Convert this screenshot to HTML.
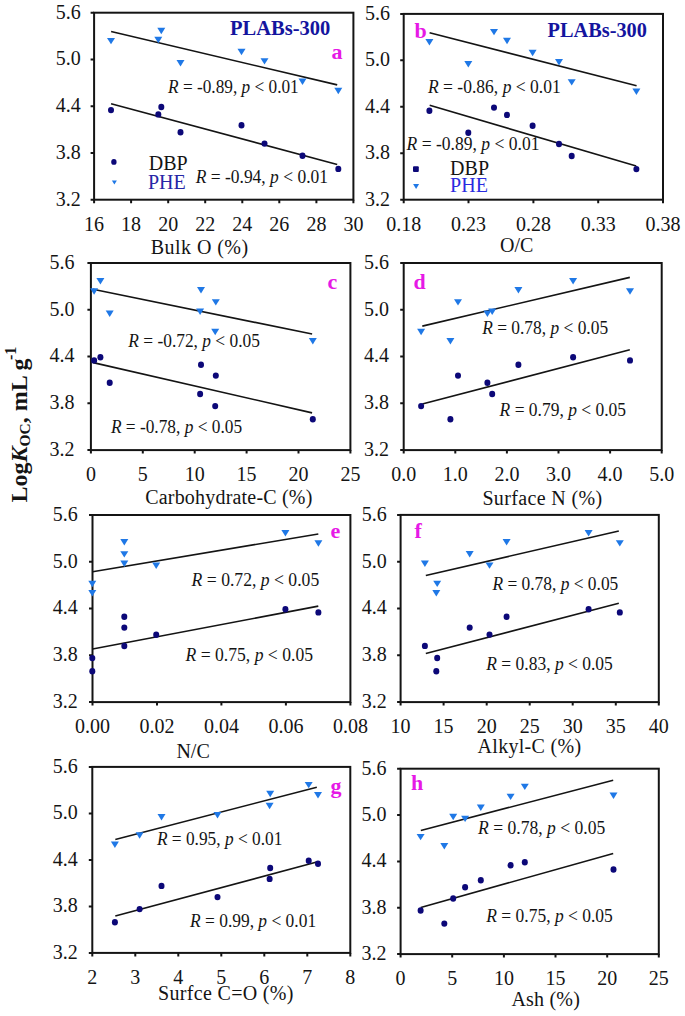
<!DOCTYPE html>
<html><head><meta charset="utf-8"><style>
html,body{margin:0;padding:0;background:#fff;}
svg{display:block;}
text{font-family:"Liberation Serif",serif;}
.t{font-size:20px;fill:#141414;}
.n{font-size:19.5px;fill:#141414;}
.m{font-size:22px;font-weight:bold;fill:#e619e6;}
.pl{font-size:21px;font-weight:bold;fill:#14149e;}
.yl{font-size:24px;font-weight:bold;fill:#141414;}
</style></head><body>
<svg width="685" height="1016" viewBox="0 0 685 1016">
<rect width="685" height="1016" fill="#fff"/>
<g><rect x="94.1" y="12.7" width="259.3" height="187" fill="none" stroke="#141414" stroke-width="2"/><path d="M90.6 12.7H94.1 M90.6 59.5H94.1 M90.6 106.2H94.1 M90.6 152.9H94.1 M90.6 199.7H94.1 M94.1 199.7V203.2 M131.1 199.7V203.2 M168.2 199.7V203.2 M205.2 199.7V203.2 M242.3 199.7V203.2 M279.3 199.7V203.2 M316.4 199.7V203.2 M353.4 199.7V203.2" stroke="#141414" stroke-width="2" fill="none"/><text x="80.7" y="18.5" text-anchor="end" class="t">5.6</text><text x="80.7" y="65.2" text-anchor="end" class="t">5.0</text><text x="80.7" y="112" text-anchor="end" class="t">4.4</text><text x="80.7" y="158.8" text-anchor="end" class="t">3.8</text><text x="80.7" y="205.5" text-anchor="end" class="t">3.2</text><text x="94.1" y="230.5" text-anchor="middle" class="t">16</text><text x="131.1" y="230.5" text-anchor="middle" class="t">18</text><text x="168.2" y="230.5" text-anchor="middle" class="t">20</text><text x="205.2" y="230.5" text-anchor="middle" class="t">22</text><text x="242.3" y="230.5" text-anchor="middle" class="t">24</text><text x="279.3" y="230.5" text-anchor="middle" class="t">26</text><text x="316.4" y="230.5" text-anchor="middle" class="t">28</text><text x="353.4" y="230.5" text-anchor="middle" class="t">30</text><text x="150.8" y="253.5" class="t" textLength="97.3" lengthAdjust="spacing">Bulk O (%)</text><path d="M111.1 31.5L337.2 84.9" stroke="#141414" stroke-width="1.6"/><path d="M111.1 103.8L337.2 164.4" stroke="#141414" stroke-width="1.6"/><path d="M107 37.9H115L111 44.3Z" fill="#1f78e6"/><path d="M176.5 60.1H184.5L180.5 66.5Z" fill="#1f78e6"/><path d="M157.3 27.8H165.3L161.3 34.2Z" fill="#1f78e6"/><path d="M154.3 36.8H162.3L158.3 43.2Z" fill="#1f78e6"/><path d="M237.5 48.8H245.5L241.5 55.2Z" fill="#1f78e6"/><path d="M260.5 58.2H268.5L264.5 64.6Z" fill="#1f78e6"/><path d="M298.5 78.5H306.5L302.5 84.9Z" fill="#1f78e6"/><path d="M334.3 87.8H342.3L338.3 94.2Z" fill="#1f78e6"/><ellipse cx="111" cy="110.1" rx="3.0" ry="3.2" fill="#0c0878"/><ellipse cx="180.5" cy="132.3" rx="3.0" ry="3.2" fill="#0c0878"/><ellipse cx="161.3" cy="107" rx="3.0" ry="3.2" fill="#0c0878"/><ellipse cx="158.3" cy="114.4" rx="3.0" ry="3.2" fill="#0c0878"/><ellipse cx="241.5" cy="125.3" rx="3.0" ry="3.2" fill="#0c0878"/><ellipse cx="264.5" cy="143.6" rx="3.0" ry="3.2" fill="#0c0878"/><ellipse cx="302.5" cy="155.7" rx="3.0" ry="3.2" fill="#0c0878"/><ellipse cx="338.3" cy="168.9" rx="3.0" ry="3.2" fill="#0c0878"/><text x="168.1" y="92.6" class="n" textLength="130.6" lengthAdjust="spacingAndGlyphs"><tspan font-style="italic">R</tspan> = -0.89, <tspan font-style="italic">p</tspan> &lt; 0.01</text><text x="195.7" y="182.6" class="n" textLength="132.3" lengthAdjust="spacingAndGlyphs"><tspan font-style="italic">R</tspan> = -0.94, <tspan font-style="italic">p</tspan> &lt; 0.01</text><text x="331.4" y="59" class="m">a</text></g>
<g><rect x="403.7" y="13.9" width="259.3" height="185.8" fill="none" stroke="#141414" stroke-width="2"/><path d="M400.2 13.9H403.7 M400.2 60.3H403.7 M400.2 106.8H403.7 M400.2 153.2H403.7 M400.2 199.7H403.7 M403.7 199.7V203.2 M468.5 199.7V203.2 M533.4 199.7V203.2 M598.2 199.7V203.2 M663 199.7V203.2" stroke="#141414" stroke-width="2" fill="none"/><text x="390" y="19.7" text-anchor="end" class="t">5.6</text><text x="390" y="66.1" text-anchor="end" class="t">5.0</text><text x="390" y="112.6" text-anchor="end" class="t">4.4</text><text x="390" y="159.1" text-anchor="end" class="t">3.8</text><text x="390" y="205.5" text-anchor="end" class="t">3.2</text><text x="403.7" y="230.5" text-anchor="middle" class="t">0.18</text><text x="468.5" y="230.5" text-anchor="middle" class="t">0.23</text><text x="533.4" y="230.5" text-anchor="middle" class="t">0.28</text><text x="598.2" y="230.5" text-anchor="middle" class="t">0.33</text><text x="663" y="230.5" text-anchor="middle" class="t">0.38</text><text x="500" y="252" class="t">O/C</text><path d="M429.6 32.8L636.6 85.7" stroke="#141414" stroke-width="1.6"/><path d="M429.7 105.3L636.2 166.1" stroke="#141414" stroke-width="1.6"/><path d="M425.4 39H433.4L429.4 45.4Z" fill="#1f78e6"/><path d="M464.3 61H472.3L468.3 67.4Z" fill="#1f78e6"/><path d="M490 28.9H498L494 35.3Z" fill="#1f78e6"/><path d="M503 37.8H511L507 44.2Z" fill="#1f78e6"/><path d="M528.6 49.8H536.6L532.6 56.2Z" fill="#1f78e6"/><path d="M555 59.1H563L559 65.5Z" fill="#1f78e6"/><path d="M567.7 79.2H575.7L571.7 85.6Z" fill="#1f78e6"/><path d="M632.4 88.5H640.4L636.4 94.9Z" fill="#1f78e6"/><ellipse cx="429.4" cy="110.7" rx="3.0" ry="3.2" fill="#0c0878"/><ellipse cx="468.3" cy="132.7" rx="3.0" ry="3.2" fill="#0c0878"/><ellipse cx="494" cy="107.6" rx="3.0" ry="3.2" fill="#0c0878"/><ellipse cx="507" cy="114.9" rx="3.0" ry="3.2" fill="#0c0878"/><ellipse cx="532.6" cy="125.8" rx="3.0" ry="3.2" fill="#0c0878"/><ellipse cx="559" cy="144" rx="3.0" ry="3.2" fill="#0c0878"/><ellipse cx="571.7" cy="156" rx="3.0" ry="3.2" fill="#0c0878"/><ellipse cx="636.4" cy="169.1" rx="3.0" ry="3.2" fill="#0c0878"/><text x="428" y="92.8" class="n" textLength="132.7" lengthAdjust="spacingAndGlyphs"><tspan font-style="italic">R</tspan> = -0.86, <tspan font-style="italic">p</tspan> &lt; 0.01</text><text x="406.6" y="149.6" class="n" textLength="132.9" lengthAdjust="spacingAndGlyphs"><tspan font-style="italic">R</tspan> = -0.89, <tspan font-style="italic">p</tspan> &lt; 0.01</text><text x="414.5" y="38.2" class="m">b</text></g>
<g><rect x="90.9" y="263" width="259.5" height="187.1" fill="none" stroke="#141414" stroke-width="2"/><path d="M87.4 263H90.9 M87.4 309.8H90.9 M87.4 356.6H90.9 M87.4 403.3H90.9 M87.4 450.1H90.9 M90.9 450.1V453.6 M142.8 450.1V453.6 M194.7 450.1V453.6 M246.6 450.1V453.6 M298.5 450.1V453.6 M350.4 450.1V453.6" stroke="#141414" stroke-width="2" fill="none"/><text x="74.6" y="268.8" text-anchor="end" class="t">5.6</text><text x="74.6" y="315.6" text-anchor="end" class="t">5.0</text><text x="74.6" y="362.4" text-anchor="end" class="t">4.4</text><text x="74.6" y="409.1" text-anchor="end" class="t">3.8</text><text x="74.6" y="455.9" text-anchor="end" class="t">3.2</text><text x="90.9" y="480.9" text-anchor="middle" class="t">0</text><text x="142.8" y="480.9" text-anchor="middle" class="t">5</text><text x="194.7" y="480.9" text-anchor="middle" class="t">10</text><text x="246.6" y="480.9" text-anchor="middle" class="t">15</text><text x="298.5" y="480.9" text-anchor="middle" class="t">20</text><text x="350.4" y="480.9" text-anchor="middle" class="t">25</text><text x="145.2" y="504.2" class="t" textLength="167.2" lengthAdjust="spacing">Carbohydrate-C (%)</text><path d="M92.9 289.3L312.1 334" stroke="#141414" stroke-width="1.6"/><path d="M93.2 362.6L312.1 412.9" stroke="#141414" stroke-width="1.6"/><path d="M90.1 288.3H98.1L94.1 294.7Z" fill="#1f78e6"/><path d="M105.7 310.5H113.7L109.7 316.9Z" fill="#1f78e6"/><path d="M96.4 278.1H104.4L100.4 284.5Z" fill="#1f78e6"/><path d="M197 287.1H205L201 293.5Z" fill="#1f78e6"/><path d="M211.8 299.2H219.8L215.8 305.6Z" fill="#1f78e6"/><path d="M196.1 308.5H204.1L200.1 314.9Z" fill="#1f78e6"/><path d="M211.2 328.8H219.2L215.2 335.2Z" fill="#1f78e6"/><path d="M308.8 338.1H316.8L312.8 344.5Z" fill="#1f78e6"/><ellipse cx="94.1" cy="360.4" rx="3.0" ry="3.2" fill="#0c0878"/><ellipse cx="109.7" cy="382.7" rx="3.0" ry="3.2" fill="#0c0878"/><ellipse cx="100.4" cy="357.3" rx="3.0" ry="3.2" fill="#0c0878"/><ellipse cx="201" cy="364.7" rx="3.0" ry="3.2" fill="#0c0878"/><ellipse cx="215.8" cy="375.6" rx="3.0" ry="3.2" fill="#0c0878"/><ellipse cx="200.1" cy="394" rx="3.0" ry="3.2" fill="#0c0878"/><ellipse cx="215.2" cy="406.1" rx="3.0" ry="3.2" fill="#0c0878"/><ellipse cx="312.8" cy="419.3" rx="3.0" ry="3.2" fill="#0c0878"/><text x="128.3" y="347.2" class="n" textLength="131.6" lengthAdjust="spacingAndGlyphs"><tspan font-style="italic">R</tspan> = -0.72, <tspan font-style="italic">p</tspan> &lt; 0.05</text><text x="110.9" y="432.8" class="n" textLength="131.2" lengthAdjust="spacingAndGlyphs"><tspan font-style="italic">R</tspan> = -0.78, <tspan font-style="italic">p</tspan> &lt; 0.05</text><text x="327.4" y="288.6" class="m">c</text></g>
<g><rect x="403.7" y="263" width="258" height="187.1" fill="none" stroke="#141414" stroke-width="2"/><path d="M400.2 263H403.7 M400.2 309.8H403.7 M400.2 356.6H403.7 M400.2 403.3H403.7 M400.2 450.1H403.7 M403.7 450.1V453.6 M455.3 450.1V453.6 M506.9 450.1V453.6 M558.5 450.1V453.6 M610.1 450.1V453.6 M661.7 450.1V453.6" stroke="#141414" stroke-width="2" fill="none"/><text x="388.9" y="268.8" text-anchor="end" class="t">5.6</text><text x="388.9" y="315.6" text-anchor="end" class="t">5.0</text><text x="388.9" y="362.4" text-anchor="end" class="t">4.4</text><text x="388.9" y="409.1" text-anchor="end" class="t">3.8</text><text x="388.9" y="455.9" text-anchor="end" class="t">3.2</text><text x="403.7" y="480.9" text-anchor="middle" class="t">0.0</text><text x="455.3" y="480.9" text-anchor="middle" class="t">1.0</text><text x="506.9" y="480.9" text-anchor="middle" class="t">2.0</text><text x="558.5" y="480.9" text-anchor="middle" class="t">3.0</text><text x="610.1" y="480.9" text-anchor="middle" class="t">4.0</text><text x="661.7" y="480.9" text-anchor="middle" class="t">5.0</text><text x="482.4" y="505.4" class="t" textLength="119.8" lengthAdjust="spacing">Surface N (%)</text><path d="M422.3 326.1L629.8 277.4" stroke="#141414" stroke-width="1.6"/><path d="M422.3 404L629.8 349.8" stroke="#141414" stroke-width="1.6"/><path d="M626 288.3H634L630 294.7Z" fill="#1f78e6"/><path d="M483.4 310.5H491.4L487.4 316.9Z" fill="#1f78e6"/><path d="M569.1 278.1H577.1L573.1 284.5Z" fill="#1f78e6"/><path d="M514.4 287.1H522.4L518.4 293.5Z" fill="#1f78e6"/><path d="M454 299.2H462L458 305.6Z" fill="#1f78e6"/><path d="M488.2 308.5H496.2L492.2 314.9Z" fill="#1f78e6"/><path d="M417.1 328.8H425.1L421.1 335.2Z" fill="#1f78e6"/><path d="M446.4 338.1H454.4L450.4 344.5Z" fill="#1f78e6"/><ellipse cx="630" cy="360.4" rx="3.0" ry="3.2" fill="#0c0878"/><ellipse cx="487.4" cy="382.7" rx="3.0" ry="3.2" fill="#0c0878"/><ellipse cx="573.1" cy="357.3" rx="3.0" ry="3.2" fill="#0c0878"/><ellipse cx="518.4" cy="364.7" rx="3.0" ry="3.2" fill="#0c0878"/><ellipse cx="458" cy="375.6" rx="3.0" ry="3.2" fill="#0c0878"/><ellipse cx="492.2" cy="394" rx="3.0" ry="3.2" fill="#0c0878"/><ellipse cx="421.1" cy="406.1" rx="3.0" ry="3.2" fill="#0c0878"/><ellipse cx="450.4" cy="419.3" rx="3.0" ry="3.2" fill="#0c0878"/><text x="482.2" y="334.3" class="n" textLength="125.9" lengthAdjust="spacingAndGlyphs"><tspan font-style="italic">R</tspan> = 0.78, <tspan font-style="italic">p</tspan> &lt; 0.05</text><text x="499.6" y="416" class="n" textLength="126.5" lengthAdjust="spacingAndGlyphs"><tspan font-style="italic">R</tspan> = 0.79, <tspan font-style="italic">p</tspan> &lt; 0.05</text><text x="413.4" y="288.7" class="m">d</text></g>
<g><rect x="92.5" y="515" width="257.9" height="187.1" fill="none" stroke="#141414" stroke-width="2"/><path d="M89 515H92.5 M89 561.8H92.5 M89 608.5H92.5 M89 655.3H92.5 M89 702.1H92.5 M92.5 702.1V705.6 M157 702.1V705.6 M221.4 702.1V705.6 M285.9 702.1V705.6 M350.4 702.1V705.6" stroke="#141414" stroke-width="2" fill="none"/><text x="77.8" y="520.8" text-anchor="end" class="t">5.6</text><text x="77.8" y="567.6" text-anchor="end" class="t">5.0</text><text x="77.8" y="614.3" text-anchor="end" class="t">4.4</text><text x="77.8" y="661.1" text-anchor="end" class="t">3.8</text><text x="77.8" y="707.9" text-anchor="end" class="t">3.2</text><text x="92.5" y="732.9" text-anchor="middle" class="t">0.00</text><text x="157" y="732.9" text-anchor="middle" class="t">0.02</text><text x="221.4" y="732.9" text-anchor="middle" class="t">0.04</text><text x="285.9" y="732.9" text-anchor="middle" class="t">0.06</text><text x="350.4" y="732.9" text-anchor="middle" class="t">0.08</text><text x="176.4" y="757.6" class="t">N/C</text><path d="M92.6 571.8L318.3 534" stroke="#141414" stroke-width="1.6"/><path d="M92.6 649L318.3 606.1" stroke="#141414" stroke-width="1.6"/><path d="M314.4 540.3H322.4L318.4 546.7Z" fill="#1f78e6"/><path d="M152.2 562.5H160.2L156.2 568.9Z" fill="#1f78e6"/><path d="M281.4 530.1H289.4L285.4 536.5Z" fill="#1f78e6"/><path d="M120.3 539.1H128.3L124.3 545.5Z" fill="#1f78e6"/><path d="M120.3 551.2H128.3L124.3 557.6Z" fill="#1f78e6"/><path d="M120.3 560.5H128.3L124.3 566.9Z" fill="#1f78e6"/><path d="M88.3 580.8H96.3L92.3 587.2Z" fill="#1f78e6"/><path d="M88.3 590.1H96.3L92.3 596.5Z" fill="#1f78e6"/><ellipse cx="318.4" cy="612.4" rx="3.0" ry="3.2" fill="#0c0878"/><ellipse cx="156.2" cy="634.7" rx="3.0" ry="3.2" fill="#0c0878"/><ellipse cx="285.4" cy="609.3" rx="3.0" ry="3.2" fill="#0c0878"/><ellipse cx="124.3" cy="616.7" rx="3.0" ry="3.2" fill="#0c0878"/><ellipse cx="124.3" cy="627.6" rx="3.0" ry="3.2" fill="#0c0878"/><ellipse cx="124.3" cy="646" rx="3.0" ry="3.2" fill="#0c0878"/><ellipse cx="92.3" cy="658.1" rx="3.0" ry="3.2" fill="#0c0878"/><ellipse cx="92.3" cy="671.3" rx="3.0" ry="3.2" fill="#0c0878"/><text x="191.6" y="586.4" class="n" textLength="127.6" lengthAdjust="spacingAndGlyphs"><tspan font-style="italic">R</tspan> = 0.72, <tspan font-style="italic">p</tspan> &lt; 0.05</text><text x="185.5" y="661.1" class="n" textLength="127.5" lengthAdjust="spacingAndGlyphs"><tspan font-style="italic">R</tspan> = 0.75, <tspan font-style="italic">p</tspan> &lt; 0.05</text><text x="330.4" y="537.6" class="m">e</text></g>
<g><rect x="400.6" y="514.9" width="258.2" height="187.2" fill="none" stroke="#141414" stroke-width="2"/><path d="M397.1 514.9H400.6 M397.1 561.7H400.6 M397.1 608.5H400.6 M397.1 655.3H400.6 M397.1 702.1H400.6 M400.6 702.1V705.6 M443.6 702.1V705.6 M486.7 702.1V705.6 M529.7 702.1V705.6 M572.7 702.1V705.6 M615.8 702.1V705.6 M658.8 702.1V705.6" stroke="#141414" stroke-width="2" fill="none"/><text x="386.8" y="520.7" text-anchor="end" class="t">5.6</text><text x="386.8" y="567.5" text-anchor="end" class="t">5.0</text><text x="386.8" y="614.3" text-anchor="end" class="t">4.4</text><text x="386.8" y="661.1" text-anchor="end" class="t">3.8</text><text x="386.8" y="707.9" text-anchor="end" class="t">3.2</text><text x="400.6" y="732.9" text-anchor="middle" class="t">10</text><text x="443.6" y="732.9" text-anchor="middle" class="t">15</text><text x="486.7" y="732.9" text-anchor="middle" class="t">20</text><text x="529.7" y="732.9" text-anchor="middle" class="t">25</text><text x="572.7" y="732.9" text-anchor="middle" class="t">30</text><text x="615.8" y="732.9" text-anchor="middle" class="t">35</text><text x="658.8" y="732.9" text-anchor="middle" class="t">40</text><text x="477.6" y="753.2" class="t" textLength="103.5" lengthAdjust="spacing">Alkyl-C (%)</text><path d="M425.8 575.5L618.8 531" stroke="#141414" stroke-width="1.6"/><path d="M425.8 653.6L618.8 603.3" stroke="#141414" stroke-width="1.6"/><path d="M615.8 540.2H623.8L619.8 546.6Z" fill="#1f78e6"/><path d="M485.5 562.4H493.5L489.5 568.8Z" fill="#1f78e6"/><path d="M584.6 530H592.6L588.6 536.4Z" fill="#1f78e6"/><path d="M502.6 539H510.6L506.6 545.4Z" fill="#1f78e6"/><path d="M465.7 551.1H473.7L469.7 557.5Z" fill="#1f78e6"/><path d="M420.9 560.4H428.9L424.9 566.9Z" fill="#1f78e6"/><path d="M433.2 580.7H441.2L437.2 587.1Z" fill="#1f78e6"/><path d="M432.3 590.1H440.3L436.3 596.5Z" fill="#1f78e6"/><ellipse cx="619.8" cy="612.4" rx="3.0" ry="3.2" fill="#0c0878"/><ellipse cx="489.5" cy="634.6" rx="3.0" ry="3.2" fill="#0c0878"/><ellipse cx="588.6" cy="609.3" rx="3.0" ry="3.2" fill="#0c0878"/><ellipse cx="506.6" cy="616.7" rx="3.0" ry="3.2" fill="#0c0878"/><ellipse cx="469.7" cy="627.6" rx="3.0" ry="3.2" fill="#0c0878"/><ellipse cx="424.9" cy="645.9" rx="3.0" ry="3.2" fill="#0c0878"/><ellipse cx="437.2" cy="658" rx="3.0" ry="3.2" fill="#0c0878"/><ellipse cx="436.3" cy="671.3" rx="3.0" ry="3.2" fill="#0c0878"/><text x="492.4" y="590.1" class="n" textLength="125.9" lengthAdjust="spacingAndGlyphs"><tspan font-style="italic">R</tspan> = 0.78, <tspan font-style="italic">p</tspan> &lt; 0.05</text><text x="486.3" y="670.1" class="n" textLength="126.5" lengthAdjust="spacingAndGlyphs"><tspan font-style="italic">R</tspan> = 0.83, <tspan font-style="italic">p</tspan> &lt; 0.05</text><text x="414.4" y="537.8" class="m">f</text></g>
<g><rect x="92.3" y="766.9" width="258" height="186" fill="none" stroke="#141414" stroke-width="2"/><path d="M88.8 766.9H92.3 M88.8 813.4H92.3 M88.8 859.9H92.3 M88.8 906.4H92.3 M88.8 952.9H92.3 M92.3 952.9V956.4 M135.3 952.9V956.4 M178.3 952.9V956.4 M221.3 952.9V956.4 M264.3 952.9V956.4 M307.3 952.9V956.4 M350.3 952.9V956.4" stroke="#141414" stroke-width="2" fill="none"/><text x="77.8" y="772.7" text-anchor="end" class="t">5.6</text><text x="77.8" y="819.2" text-anchor="end" class="t">5.0</text><text x="77.8" y="865.7" text-anchor="end" class="t">4.4</text><text x="77.8" y="912.2" text-anchor="end" class="t">3.8</text><text x="77.8" y="958.7" text-anchor="end" class="t">3.2</text><text x="92.3" y="983.7" text-anchor="middle" class="t">2</text><text x="135.3" y="983.7" text-anchor="middle" class="t">3</text><text x="178.3" y="983.7" text-anchor="middle" class="t">4</text><text x="221.3" y="983.7" text-anchor="middle" class="t">5</text><text x="264.3" y="983.7" text-anchor="middle" class="t">6</text><text x="307.3" y="983.7" text-anchor="middle" class="t">7</text><text x="350.3" y="983.7" text-anchor="middle" class="t">8</text><text x="158" y="1000.2" class="t" textLength="135.5" lengthAdjust="spacing">Surfce C=O (%)</text><path d="M115.3 839.6L316.8 787.2" stroke="#141414" stroke-width="1.6"/><path d="M115.3 916L316.8 862.1" stroke="#141414" stroke-width="1.6"/><path d="M314 792H322L318 798.4Z" fill="#1f78e6"/><path d="M157.5 814.1H165.5L161.5 820.5Z" fill="#1f78e6"/><path d="M304.7 781.9H312.7L308.7 788.3Z" fill="#1f78e6"/><path d="M266.2 790.8H274.2L270.2 797.2Z" fill="#1f78e6"/><path d="M265.6 802.8H273.6L269.6 809.2Z" fill="#1f78e6"/><path d="M213.5 812.1H221.5L217.5 818.5Z" fill="#1f78e6"/><path d="M135.6 832.3H143.6L139.6 838.7Z" fill="#1f78e6"/><path d="M110.9 841.6H118.9L114.9 848Z" fill="#1f78e6"/><ellipse cx="318" cy="863.8" rx="3.0" ry="3.2" fill="#0c0878"/><ellipse cx="161.5" cy="885.9" rx="3.0" ry="3.2" fill="#0c0878"/><ellipse cx="308.7" cy="860.7" rx="3.0" ry="3.2" fill="#0c0878"/><ellipse cx="270.2" cy="868" rx="3.0" ry="3.2" fill="#0c0878"/><ellipse cx="269.6" cy="878.9" rx="3.0" ry="3.2" fill="#0c0878"/><ellipse cx="217.5" cy="897.1" rx="3.0" ry="3.2" fill="#0c0878"/><ellipse cx="139.6" cy="909.1" rx="3.0" ry="3.2" fill="#0c0878"/><ellipse cx="114.9" cy="922.3" rx="3.0" ry="3.2" fill="#0c0878"/><text x="156.9" y="845.2" class="n" textLength="125.5" lengthAdjust="spacingAndGlyphs"><tspan font-style="italic">R</tspan> = 0.95, <tspan font-style="italic">p</tspan> &lt; 0.01</text><text x="190" y="927" class="n" textLength="126.1" lengthAdjust="spacingAndGlyphs"><tspan font-style="italic">R</tspan> = 0.99, <tspan font-style="italic">p</tspan> &lt; 0.01</text><text x="330.4" y="792.7" class="m">g</text></g>
<g><rect x="400.6" y="768.7" width="258.2" height="185.4" fill="none" stroke="#141414" stroke-width="2"/><path d="M397.1 768.7H400.6 M397.1 815.1H400.6 M397.1 861.4H400.6 M397.1 907.8H400.6 M397.1 954.1H400.6 M400.6 954.1V957.6 M452.2 954.1V957.6 M503.9 954.1V957.6 M555.5 954.1V957.6 M607.2 954.1V957.6 M658.8 954.1V957.6" stroke="#141414" stroke-width="2" fill="none"/><text x="386.4" y="774.5" text-anchor="end" class="t">5.6</text><text x="386.4" y="820.9" text-anchor="end" class="t">5.0</text><text x="386.4" y="867.2" text-anchor="end" class="t">4.4</text><text x="386.4" y="913.5" text-anchor="end" class="t">3.8</text><text x="386.4" y="959.9" text-anchor="end" class="t">3.2</text><text x="400.6" y="984.9" text-anchor="middle" class="t">0</text><text x="452.2" y="984.9" text-anchor="middle" class="t">5</text><text x="503.9" y="984.9" text-anchor="middle" class="t">10</text><text x="555.5" y="984.9" text-anchor="middle" class="t">15</text><text x="607.2" y="984.9" text-anchor="middle" class="t">20</text><text x="658.8" y="984.9" text-anchor="middle" class="t">25</text><text x="511.4" y="1006.3" class="t" textLength="68.5" lengthAdjust="spacing">Ash (%)</text><path d="M420.8 830.5L613.2 780.2" stroke="#141414" stroke-width="1.6"/><path d="M420.8 907.4L613.2 853.5" stroke="#141414" stroke-width="1.6"/><path d="M506.6 793.7H514.6L510.6 800.1Z" fill="#1f78e6"/><path d="M461.1 815.7H469.1L465.1 822.1Z" fill="#1f78e6"/><path d="M520.8 783.7H528.8L524.8 790.1Z" fill="#1f78e6"/><path d="M609.5 792.5H617.5L613.5 798.9Z" fill="#1f78e6"/><path d="M476.8 804.5H484.8L480.8 810.9Z" fill="#1f78e6"/><path d="M449.2 813.8H457.2L453.2 820.2Z" fill="#1f78e6"/><path d="M416.6 833.9H424.6L420.6 840.3Z" fill="#1f78e6"/><path d="M440.3 843.1H448.3L444.3 849.5Z" fill="#1f78e6"/><ellipse cx="510.6" cy="865.3" rx="3.0" ry="3.2" fill="#0c0878"/><ellipse cx="465.1" cy="887.3" rx="3.0" ry="3.2" fill="#0c0878"/><ellipse cx="524.8" cy="862.2" rx="3.0" ry="3.2" fill="#0c0878"/><ellipse cx="613.5" cy="869.5" rx="3.0" ry="3.2" fill="#0c0878"/><ellipse cx="480.8" cy="880.3" rx="3.0" ry="3.2" fill="#0c0878"/><ellipse cx="453.2" cy="898.5" rx="3.0" ry="3.2" fill="#0c0878"/><ellipse cx="420.6" cy="910.5" rx="3.0" ry="3.2" fill="#0c0878"/><ellipse cx="444.3" cy="923.6" rx="3.0" ry="3.2" fill="#0c0878"/><text x="478.1" y="833.5" class="n" textLength="127.2" lengthAdjust="spacingAndGlyphs"><tspan font-style="italic">R</tspan> = 0.78, <tspan font-style="italic">p</tspan> &lt; 0.05</text><text x="486.3" y="922.3" class="n" textLength="126.5" lengthAdjust="spacingAndGlyphs"><tspan font-style="italic">R</tspan> = 0.75, <tspan font-style="italic">p</tspan> &lt; 0.05</text><text x="410.9" y="789.9" class="m">h</text></g>
<text x="230.1" y="35.4" class="pl" textLength="100.3" lengthAdjust="spacingAndGlyphs">PLABs-300</text>
<text x="547.6" y="36.8" class="pl" textLength="99.3" lengthAdjust="spacingAndGlyphs">PLABs-300</text>
<ellipse cx="113.9" cy="161.9" rx="2.7" ry="2.9" fill="#0c0878"/>
<path d="M111.9 180.4H116.9L114.4 184.6Z" fill="#1f78e6"/>
<text x="148.8" y="169.5" class="t">DBP</text>
<text x="148" y="188.5" class="t" style="fill:#2626a6">PHE</text>
<rect x="413" y="166.3" width="5.8" height="5.8" rx="1" fill="#0c0878"/>
<path d="M413.1 184.1H419.1L416.1 188.9Z" fill="#1f78e6"/>
<text x="450.1" y="175" class="t">DBP</text>
<text x="450.1" y="191.8" class="t" style="fill:#2a2ae0">PHE</text>
<text transform="translate(26.8 502.5) rotate(-90)" class="yl">Log<tspan font-style="italic">K</tspan><tspan font-size="15.5" dy="3.5">OC</tspan><tspan dy="-3.5">, mL g</tspan><tspan font-size="16" dy="-10.5" dx="-1.5">-1</tspan></text>
</svg>
</body></html>
